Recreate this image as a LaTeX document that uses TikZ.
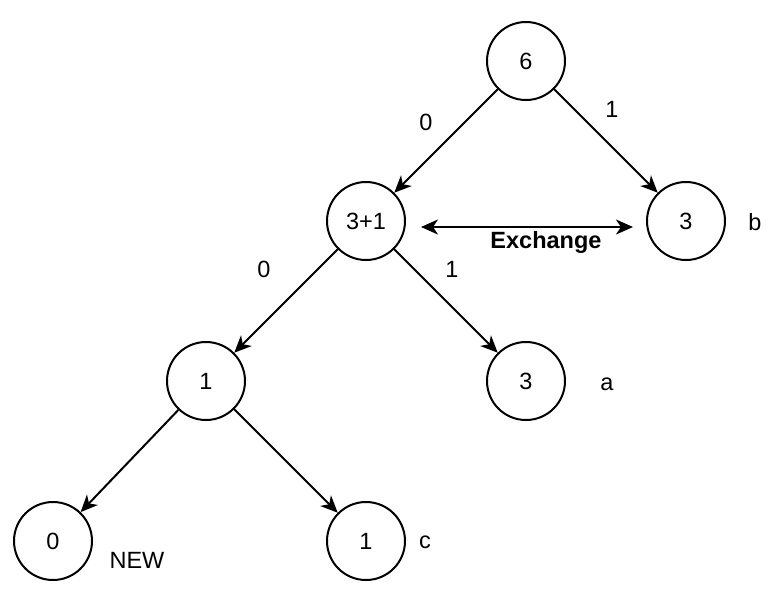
\documentclass[tikz,border=0pt]{standalone}
\usepackage{fontspec}
\setmainfont{Liberation Sans}
\usetikzlibrary{arrows.meta}
\begin{document}
\begin{tikzpicture}[x=1pt,y=-1pt,
  every node/.style={font=\fontsize{23.5}{28}\selectfont},
  circ/.style={draw, circle, line width=2pt, minimum size=78pt, inner sep=0pt},
  arr/.style={line width=2pt, -{Stealth[length=17pt,width=15pt,inset=5pt]}},
  darr/.style={line width=2pt, {Stealth[length=17pt,width=15pt,inset=5pt]}-{Stealth[length=17pt,width=15pt,inset=5pt]}},
  lbl/.style={anchor=base, inner sep=0pt}
]
\useasboundingbox (0,0) rectangle (774,614);
\node[circ] (n6) at (526,61) {6};
\node[circ] (n31) at (366,221) {3+1};
\node[circ] (n3b) at (686,221) {3};
\node[circ] (n1) at (206,381) {1};
\node[circ] (n3a) at (526,381) {3};
\node[circ] (n0) at (53,541) {0};
\node[circ] (n1c) at (366,541) {1};

\draw[arr] (n6) -- (n31);
\draw[arr] (n6) -- (n3b);
\draw[arr] (n31) -- (n1);
\draw[arr] (n31) -- (n3a);
\draw[arr] (n1) -- (n0);
\draw[arr] (n1) -- (n1c);

\coordinate (exL) at (421,227);
\coordinate (exR) at (633,227);
\draw[darr] (exL) -- (exR);

\node[lbl] (l0a) at (426,130) {0};
\node[lbl] (l1a) at (612,117) {1};
\node[lbl] (l0b) at (264,277) {0};
\node[lbl] (l1b) at (452,277) {1};
\node[lbl] (lb) at (755,230) {b};
\node[lbl] (la) at (607,390) {a};
\node[lbl] (lc) at (425,548) {c};
\node[lbl] (lnew) at (137,568) {NEW};
\node[lbl, font=\fontsize{23.5}{28}\selectfont\bfseries] (lex) at (546,248) {Exchange};
\end{tikzpicture}
\end{document}
